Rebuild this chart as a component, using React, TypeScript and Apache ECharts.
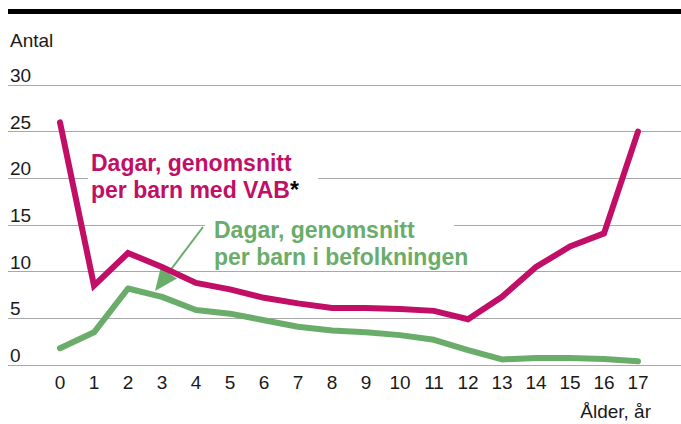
import React, { useEffect, useRef } from "react";
import * as echarts from "echarts";

const ages = ["0", "1", "2", "3", "4", "5", "6", "7", "8", "9", "10", "11", "12", "13", "14", "15", "16", "17"];
const vabDays = [26.0, 8.5, 12.0, 10.5, 8.8, 8.1, 7.2, 6.6, 6.1, 6.1, 6.0, 5.8, 4.9, 7.3, 10.5, 12.7, 14.1, 25.0];
const popDays = [1.8, 3.5, 8.2, 7.3, 5.9, 5.5, 4.8, 4.1, 3.7, 3.5, 3.2, 2.7, 1.6, 0.6, 0.75, 0.75, 0.65, 0.4];
const yTicks = [0, 5, 10, 15, 20, 25, 30];

const MAGENTA = "#c10f67";
const GREEN = "#6aad6a";
const FONT = "'Liberation Sans', Arial, sans-serif";

export default function App() {
  const ref = useRef<HTMLDivElement>(null);
  useEffect(() => {
    if (!ref.current) return;
    const chart = echarts.init(ref.current, null, { renderer: "svg" });
    const yMin = yTicks[0];
    const yMax = yTicks[yTicks.length - 1];
    const yStep = yTicks[1] - yTicks[0];
    const labelStyle = { fontSize: 23, fontWeight: "bold", fontFamily: FONT, lineHeight: 27 };
    chart.setOption({
      animation: false,
      grid: [
        { left: 8, right: 0, top: 85, bottom: 59 },
        { left: 60, right: 43, top: 85, bottom: 59 },
      ],
      xAxis: [
        { type: "value", gridIndex: 0, show: false, min: 0, max: 1 },
        {
          type: "category",
          gridIndex: 1,
          data: ages,
          boundaryGap: false,
          axisLine: { show: false },
          axisTick: { show: false },
          splitLine: { show: false },
          axisLabel: { color: "#1a1a1a", fontSize: 19, fontFamily: FONT, margin: 8 },
        },
      ],
      yAxis: [
        {
          type: "value",
          gridIndex: 0,
          min: yMin,
          max: yMax,
          interval: yStep,
          axisLine: { show: false },
          axisTick: { show: false },
          splitLine: { show: true, lineStyle: { color: "#a8a8a8", width: 1.2 } },
          axisLabel: {
            inside: true,
            margin: 2,
            align: "left",
            verticalAlign: "bottom",
            color: "#1a1a1a",
            fontSize: 19,
            fontFamily: FONT,
          },
        },
        { type: "value", gridIndex: 1, min: yMin, max: yMax, interval: yStep, show: false },
      ],
      graphic: [
        { type: "line", shape: { x1: 8, y1: 11.5, x2: 681, y2: 11.5 }, style: { stroke: "#000", lineWidth: 5 }, z: 10 },
        { type: "text", x: 10, y: 40, style: { text: "Antal", font: `19px ${FONT}`, fill: "#1a1a1a", verticalAlign: "middle" } },
        { type: "text", x: 651, y: 411, style: { text: "Ålder, år", font: `19px ${FONT}`, fill: "#1a1a1a", align: "right", verticalAlign: "middle" } },
        { type: "rect", shape: { x: 88, y: 150, width: 230, height: 55 }, style: { fill: "#fff" }, z: 1 },
        { type: "rect", shape: { x: 205, y: 213, width: 249, height: 55 }, style: { fill: "#fff" }, z: 1 },
        {
          type: "text",
          x: 91,
          y: 149,
          z: 2,
          style: {
            text: "{m|Dagar, genomsnitt}\n{m|per barn med VAB}{k|*}",
            verticalAlign: "top",
            rich: {
              m: { ...labelStyle, fill: MAGENTA },
              k: { ...labelStyle, fill: "#000" },
            },
          },
        },
        {
          type: "text",
          x: 214,
          y: 216,
          z: 2,
          style: {
            text: "Dagar, genomsnitt\nper barn i befolkningen",
            verticalAlign: "top",
            ...labelStyle,
            fill: GREEN,
          },
        },
        { type: "line", shape: { x1: 203, y1: 227, x2: 163, y2: 280 }, style: { stroke: GREEN, lineWidth: 2 }, z: 2 },
        { type: "polygon", shape: { points: [[155, 291], [160.5, 268.5], [177, 278.5]] }, style: { fill: GREEN }, z: 2 },
      ],
      series: [
        {
          type: "line",
          xAxisIndex: 1,
          yAxisIndex: 1,
          data: popDays,
          symbol: "none",
          lineStyle: { color: GREEN, width: 6, cap: "round", join: "round" },
          z: 3,
        },
        {
          type: "line",
          xAxisIndex: 1,
          yAxisIndex: 1,
          data: vabDays,
          symbol: "none",
          lineStyle: { color: MAGENTA, width: 6, cap: "round", join: "miter" },
          z: 4,
        },
      ],
    });
    return () => chart.dispose();
  }, []);
  return <div ref={ref} style={{ position: "absolute", left: 0, top: 0, width: 681, height: 424 }} />;
}
